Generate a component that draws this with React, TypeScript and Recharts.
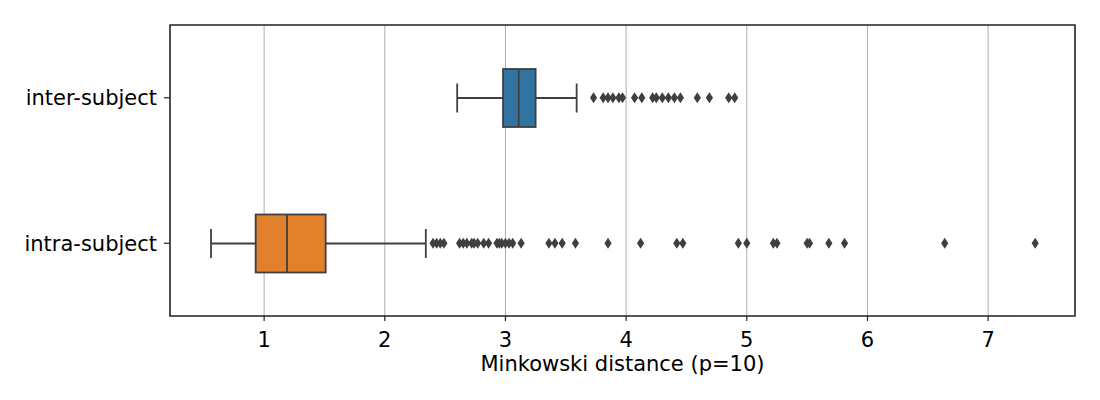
import { ComposedChart, Bar, Scatter, XAxis, YAxis, CartesianGrid, ReferenceArea } from "recharts";

const categories = ["inter-subject", "intra-subject"];
const whiskerLow = [2.6, 0.56];
const q1 = [2.98, 0.93];
const median = [3.11, 1.19];
const q3 = [3.25, 1.51];
const whiskerHigh = [3.59, 2.34];
const boxColors = ["#3274a1", "#e1812c"];

const interOutliers = [
  3.73, 3.81, 3.85, 3.89, 3.94, 3.97, 4.07, 4.13, 4.22, 4.25, 4.3, 4.35, 4.4, 4.45, 4.59, 4.69, 4.85, 4.9,
];
const intraOutliers = [
  2.4, 2.43, 2.46, 2.49, 2.62, 2.65, 2.68, 2.72, 2.74, 2.77, 2.82, 2.86, 2.93, 2.95, 2.97, 3.0, 3.03, 3.06,
  3.13, 3.36, 3.41, 3.47, 3.58, 3.85, 4.12, 4.42, 4.47, 4.93, 5.0, 5.22, 5.25, 5.5, 5.52, 5.68, 5.81, 6.64, 7.39,
];
const xTicks = [1, 2, 3, 4, 5, 6, 7];
const xDomain = [0.22, 7.72];

const LINE = "#3f3f3f";
const FRAME = "#222";
const FONT = "DejaVu Sans";
const FS = 21;

const boxData = categories.map((name, i) => ({
  name,
  range: [whiskerLow[i], whiskerHigh[i]],
  q1: q1[i],
  median: median[i],
  q3: q3[i],
  color: boxColors[i],
}));

const outlierData = [
  ...interOutliers.map((v) => ({ name: categories[0], v })),
  ...intraOutliers.map((v) => ({ name: categories[1], v })),
];

// box + whiskers drawn inside the bar that spans whisker to whisker
const BoxShape = (props: any) => {
  const { x, y, width, height, payload } = props;
  const [lo, hi] = payload.range;
  const px = (v: number) => x + ((v - lo) / (hi - lo)) * width;
  const xq1 = px(payload.q1);
  const xq3 = px(payload.q3);
  const xmed = px(payload.median);
  const cy = y + height / 2;
  const cap = height / 4;
  const sw = 1.8;
  return (
    <g>
      <line x1={x} x2={xq1} y1={cy} y2={cy} stroke={LINE} strokeWidth={sw} />
      <line x1={xq3} x2={x + width} y1={cy} y2={cy} stroke={LINE} strokeWidth={sw} />
      <line x1={x} x2={x} y1={cy - cap} y2={cy + cap} stroke={LINE} strokeWidth={sw} />
      <line x1={x + width} x2={x + width} y1={cy - cap} y2={cy + cap} stroke={LINE} strokeWidth={sw} />
      <rect x={xq1} y={y} width={xq3 - xq1} height={height} fill={payload.color} stroke={LINE} strokeWidth={sw} />
      <line x1={xmed} x2={xmed} y1={y} y2={y + height} stroke={LINE} strokeWidth={sw} />
    </g>
  );
};

const Diamond = (props: any) => {
  const { cx, cy } = props;
  if (cx == null || cy == null) return null;
  return <polygon points={`${cx},${cy - 5.5} ${cx + 3.6},${cy} ${cx},${cy + 5.5} ${cx - 3.6},${cy}`} fill={LINE} />;
};

export default function App() {
  return (
    <div style={{ position: "absolute", left: 0, top: 0, width: 1100, height: 400, background: "#fff" }}>
      <ComposedChart
        width={1100}
        height={400}
        data={boxData}
        layout="vertical"
        margin={{ top: 25, right: 25, left: 0, bottom: 0 }}
      >
        <XAxis
          type="number"
          domain={xDomain}
          ticks={xTicks}
          allowDataOverflow
          height={84}
          tick={{ fontSize: FS, fill: "#000", fontFamily: FONT }}
          tickLine={{ stroke: FRAME, strokeWidth: 1.2 }}
          tickSize={5}
          tickMargin={11}
          axisLine={false}
          label={{ value: "Minkowski distance (p=10)", position: "insideTop", offset: 40, style: { fontSize: FS, fill: "#000", fontFamily: FONT } }}
        />
        <YAxis
          type="category"
          dataKey="name"
          allowDuplicatedCategory={false}
          width={170}
          tick={{ fontSize: FS, fill: "#000", fontFamily: FONT }}
          tickLine={{ stroke: FRAME, strokeWidth: 1.2 }}
          tickSize={6}
          tickMargin={7}
          axisLine={false}
        />
        <CartesianGrid horizontal={false} stroke="#b0b0b0" />
        <Bar dataKey="range" barSize={58} shape={BoxShape} isAnimationActive={false} />
        <Scatter data={outlierData} dataKey="v" shape={Diamond} isAnimationActive={false} />
        <ReferenceArea x1={xDomain[0]} x2={xDomain[1]} fill="none" stroke={FRAME} strokeWidth={1.5} />
      </ComposedChart>
    </div>
  );
}
